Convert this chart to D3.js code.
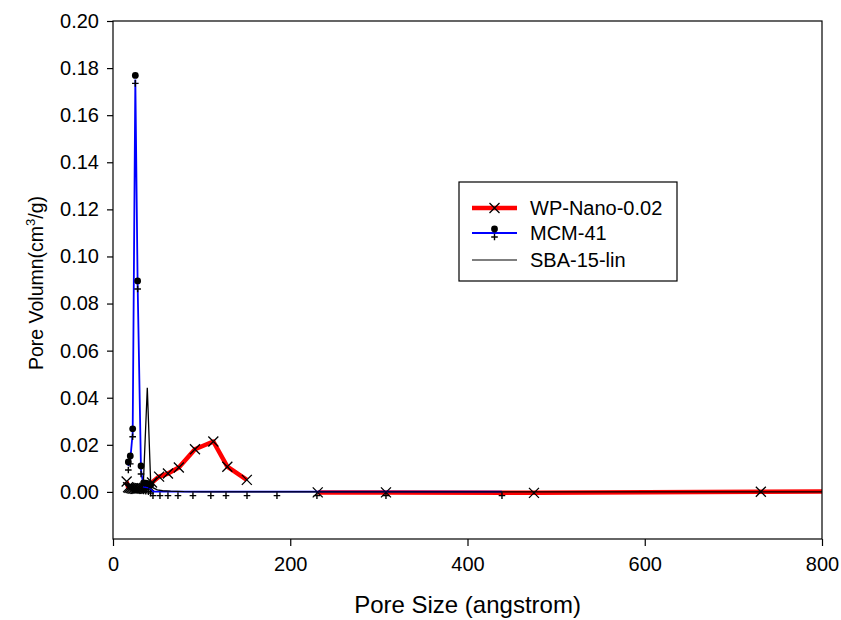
<!DOCTYPE html>
<html><head><meta charset="utf-8">
<script src="https://cdn.jsdelivr.net/npm/d3@7/dist/d3.min.js"></script>
<style>body{margin:0;background:#fff}svg{display:block;font-family:"Liberation Sans",Arial,sans-serif}</style>
</head><body><svg id="c" width="841" height="620"></svg>
<script>
// ---- data ----
const seriesNames = ["WP-Nano-0.02", "MCM-41", "SBA-15-lin"];
const xTicks = [0, 200, 400, 600, 800];
const yTicks = [0, 0.02, 0.04, 0.06, 0.08, 0.10, 0.12, 0.14, 0.16, 0.18, 0.20];

// null = missing reading (line break)
const wpX = [15.4, 17, 18.5, 20, 21.5, 23, 24.5, 26, 27.5, 29, 31, 33, 35, 37, 39, 41, 44, 52, 62, 74.3, 92.5, 113.2, 129, 151, 185, 231, 308, 475, 731, 1150];
const wpY = [0.0044, 0.0020, 0.0018, 0.0016, 0.0015, 0.0014, 0.0013, 0.0013, 0.0013, 0.0014, 0.0015, 0.0016, 0.0017, 0.0018, 0.0020, 0.0022, 0.0040, 0.0065, 0.0078, 0.0104, 0.0181, 0.0214, 0.0107, 0.0051, null, -0.0002, -0.0002, -0.0004, 0.0001, 0.0003];

const mcmX = [17.3, 19.5, 22.2, 25.2, 27.8, 31.6, 34.5, 37, 40, 42.5, 45.1, 53, 62, 73.3, 90.2, 110.4, 127.5, 151.2, 185, 230.1, 308, 438.9];
const mcmY = [0.0110, 0.0136, 0.0251, 0.1752, 0.0879, 0.0093, 0.0021, 0.0020, 0.0018, 0.0012, 0.0001, 0.0001, 0.0001, 0.0001, 0.0001, 0.0001, 0.0001, 0.0001, 0.0001, 0.0001, 0.0001, 0.0001];

const sbaX = [17, 20, 23, 26, 29, 32, 34.2, 38.7, 42.5, 45, 50, 56, 65, 80, 100, 150, 200, 300, 450, 600, 800, 1150];
const sbaY = [0.0015, 0.0012, 0.0010, 0.0010, 0.0012, 0.0015, 0.0030, 0.0442, 0.0040, 0.0018, 0.0009, 0.0005, 0.0003, 0.0001, 0.00005, 0, 0, 0, 0, 0, 0, 0];

// ---- layout ----
const svg = d3.select("#c");
const L = 113, R = 822, T = 21, B = 539;
const x = d3.scaleLinear().domain([0, 800]).range([L, R]);
const y = d3.scaleLinear().domain([-0.02, 0.20]).range([B, T]);

svg.append("rect").attr("width", 841).attr("height", 620).attr("fill", "#fff");
svg.append("defs").append("clipPath").attr("id", "clip")
  .append("rect").attr("x", L).attr("y", T).attr("width", R - L).attr("height", B - T);

const zip = (xs, ys) => xs.map((v, i) => ({x: v, y: ys[i]}));
const wp = zip(wpX, wpY), mcm = zip(mcmX, mcmY), sba = zip(sbaX, sbaY);
const line = d3.line().defined(d => d.y != null).x(d => x(d.x)).y(d => y(d.y));

const g = svg.append("g").attr("clip-path", "url(#clip)");

// WP-Nano
g.append("path").datum(wp).attr("d", line).attr("fill", "none")
  .attr("stroke", "#ff0000").attr("stroke-width", 4.5).attr("stroke-linejoin", "round");
const cross = (sel, s) => sel.append("path")
  .attr("d", `M${-s},${-s}L${s},${s}M${-s},${s}L${s},${-s}`)
  .attr("stroke", "#000").attr("stroke-width", 1.3).attr("fill", "none");
g.selectAll(".wpm").data(wp.filter(d => d.y != null)).join("g").attr("class", "wpm")
  .attr("transform", d => `translate(${x(d.x)},${y(d.y)})`)
  .each(function(){ cross(d3.select(this), 5); });

// MCM-41
g.append("path").datum(mcm).attr("d", line).attr("fill", "none")
  .attr("stroke", "#0000ff").attr("stroke-width", 1.8);
const plus = (sel, s) => sel.append("path")
  .attr("d", `M${-s},0L${s},0M0,${-s}L0,${s}`)
  .attr("stroke", "#000").attr("stroke-width", 1.4).attr("fill", "none");
g.selectAll(".mcmc").data(mcm.filter(d => d.y > 0.001)).join("circle").attr("class", "mcmc")
  .attr("cx", d => x(d.x)).attr("cy", d => y(d.y) - 4).attr("r", 3.4).attr("fill", "#000");
g.selectAll(".mcmp").data(mcm).join("g").attr("class", "mcmp")
  .attr("transform", d => `translate(${x(d.x)},${y(d.y) + 4})`)
  .each(function(){ plus(d3.select(this), 3.3); });

// SBA-15-lin
g.append("path").datum(sba).attr("d", line).attr("fill", "none")
  .attr("stroke", "#000").attr("stroke-width", 1.3);

// ---- frame & axes ----
svg.append("rect").attr("x", L).attr("y", T).attr("width", R - L).attr("height", B - T)
  .attr("fill", "none").attr("stroke", "#000").attr("stroke-width", 1.2);

const yAxis = svg.append("g").attr("transform", `translate(${L},0)`)
  .call(d3.axisLeft(y).tickValues(yTicks).tickFormat(d3.format(".2f")).tickSize(6).tickPadding(8));
const xAxis = svg.append("g").attr("transform", `translate(0,${B})`)
  .call(d3.axisBottom(x).tickValues(xTicks).tickFormat(d3.format("d")).tickSize(7).tickPadding(11));
[yAxis, xAxis].forEach(a => {
  a.select(".domain").remove();
  a.selectAll("line").attr("stroke", "#000").attr("stroke-width", 1.2);
  a.selectAll("text").attr("font-size", 20).attr("fill", "#000")
    .attr("font-family", "'Liberation Sans',Arial,sans-serif");
});

svg.append("text").attr("x", (L + R) / 2).attr("y", 613).attr("text-anchor", "middle")
  .attr("font-size", 24).text("Pore Size (angstrom)");
const yt = svg.append("text").attr("transform", `translate(43,${(T + B) / 2 + 3}) rotate(-90)`)
  .attr("text-anchor", "middle").attr("font-size", 19.5);
yt.append("tspan").text("Pore Volumn(cm");
yt.append("tspan").attr("font-size", 13).attr("dy", -8).text("3");
yt.append("tspan").attr("dy", 8).text("/g)");

// ---- legend ----
const lg = svg.append("g");
lg.append("rect").attr("x", 459).attr("y", 182).attr("width", 218).attr("height", 99)
  .attr("fill", "#fff").attr("stroke", "#000").attr("stroke-width", 1.2);
const rows = [208, 233, 260];
seriesNames.forEach((name, i) => {
  const yy = rows[i];
  const ln = lg.append("line").attr("x1", 472).attr("x2", 517).attr("y1", yy).attr("y2", yy);
  if (i === 0) { ln.attr("stroke", "#ff0000").attr("stroke-width", 4.5);
    cross(lg.append("g").attr("transform", `translate(494.5,${yy})`), 5); }
  if (i === 1) { ln.attr("stroke", "#0000ff").attr("stroke-width", 1.8);
    lg.append("circle").attr("cx", 494.5).attr("cy", yy - 4).attr("r", 3.4).attr("fill", "#000");
    plus(lg.append("g").attr("transform", `translate(494.5,${yy + 4})`), 3.3); }
  if (i === 2) { ln.attr("stroke", "#000").attr("stroke-width", 1.2); }
  lg.append("text").attr("x", 530).attr("y", yy).attr("dy", "0.35em")
    .attr("font-size", 20).text(name);
});
</script></body></html>
